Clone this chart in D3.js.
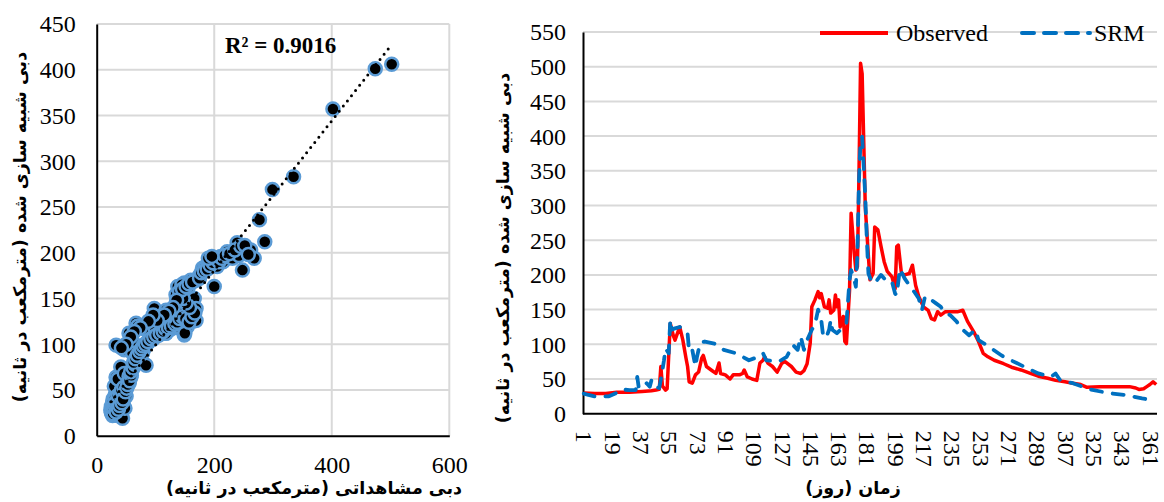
<!DOCTYPE html>
<html>
<head>
<meta charset="utf-8">
<script src="https://cdn.jsdelivr.net/npm/d3@7"></script>
<style>
  html, body { margin: 0; padding: 0; background: #fff; }
  svg { display: block; }
  .num { font-family: "Liberation Serif", "Times New Roman", serif; fill: #000; }
  .fa { font-family: "DejaVu Sans", sans-serif; font-weight: bold; fill: #000; }
</style>
</head>
<body>
<svg id="chart" width="1164" height="502"></svg>
<script>
// ---- Scatter: observed vs simulated discharge (m3/s) ----
const scatterObs = [
  24,25,26,27,27,28,28,29,30,30,30,31,32,32,33,33,34,35,35,35,36,38,38,38,38,40,40,41,42,44,44,44,45,46,47,48,48,50,50,52,33,30,33,36,41,47,55,58,55,
  25,26,27,28,29,30,31,32,33,34,36,37,39,40,42,43,45,46,49,51,53,56,59,60,
  58,62,65,68,70,70,72,75,78,80,82,84,84,85,88,90,95,100,105,106,110,115,118,120,125,130,132,33,47,61,61,55,67,70,78,81,95,98,106,109,118,118,129,135,138,143,143,143,149,149,149,154,155,160,163,166,169,169,169,174,145,150,140,125,112,100,
  63,66,69,73,76,79,83,87,92,97,102,108,113,117,122,127,133,137,141,146,151,157,162,167,158,152,147,141,146,152,157,163,136,130,123,115,103,96,88,74,64,58,50,42,
  175,180,185,190,195,200,203,200,205,211,215,222,231,239,242,248,262,268,277,286,299,335,402,474,502,
  178,183,188,193,198,208,213,218,226,235,245,252,258,190,196];
const scatterSim = [
  28,25,30,33,22,28,40,35,31,26,38,29,27,45,30,23,33,28,50,22,32,35,24,42,48,38,30,57,40,19,52,57,35,47,43,30,55,43,58,62,54,54,64,62,75,68,57,64,65,
  32,27,36,24,30,34,41,36,26,38,44,29,33,46,50,36,40,53,48,52,56,60,66,72,
  70,74,78,82,81,85,88,90,92,95,97,77,101,100,102,104,105,108,110,110,112,113,112,115,116,118,119,99,94,103,90,112,123,120,90,117,122,139,130,130,137,112,134,154,163,150,145,117,110,135,167,119,160,170,125,150,126,139,170,174,165,112,125,130,120,115,
  80,84,88,92,95,98,100,103,106,108,110,112,114,117,118,120,122,124,128,130,128,124,130,134,140,145,150,158,160,163,166,168,148,140,136,132,126,132,125,118,114,108,100,96,
  172,183,185,187,190,192,192,163,185,196,190,201,194,211,197,181,203,194,236,212,269,283,357,401,406,
  178,180,182,186,189,190,194,197,199,203,207,208,198,194,196];
const trendSlope = 0.817;
const trendIntercept = 17.4;
const rSquaredLabel = "R² = 0.9016";
const scatterXTicks = [0, 200, 400, 600];
const scatterYTicks = [0, 50, 100, 150, 200, 250, 300, 350, 400, 450];

// ---- Daily hydrograph (day of year, m3/s) ----
const observedDays = [1,8,15,22,30,38,44,47,49,50,51,53,54,56,58,59,62,64,66,67,68,70,72,74,76,77,79,82,85,87,88,91,94,96,100,102,103,105,108,111,113,115,116,118,121,124,127,129,133,136,139,141,143,145,146,148,150,151,152,154,156,157,158,160,161,162,163,164,166,167,168,170,171,173,174,175,176,177,178,179,180,182,183,185,186,188,190,192,194,197,199,200,201,203,205,208,210,212,214,217,220,222,224,226,228,231,235,239,242,245,249,252,255,258,262,268,273,279,285,290,296,301,307,312,317,321,329,335,340,348,352,354,357,359,361,363,365];
const observedFlow = [30,29,29,31,31,32,33,34,35,68,40,34,36,130,112,106,125,106,80,68,46,44,56,60,80,84,68,63,58,73,58,56,50,56,56,58,63,53,50,48,73,77,82,73,68,60,73,75,68,60,58,62,72,102,154,164,176,167,173,154,152,164,145,149,171,154,164,125,140,104,101,178,289,231,207,212,346,505,490,394,298,226,193,202,269,265,241,219,205,197,180,241,243,202,200,202,214,185,169,154,149,137,135,147,142,147,147,147,149,133,118,104,87,82,77,72,67,63,58,54,51,48,46,44,42,38,39,39,39,39,37,35,36,39,42,46,42];
const srmDays = [1,4,8,12,17,21,25,30,34,35,36,39,41,43,44,46,49,51,52,53,55,56,57,59,62,64,66,67,68,70,72,73,75,78,84,90,98,106,112,115,117,125,130,134,137,139,141,143,146,148,150,152,153,155,157,158,159,162,166,168,170,171,173,174,175,176,177,178,179,180,181,182,184,186,190,194,197,199,200,202,205,208,211,214,216,218,222,225,228,230,234,238,241,246,250,252,257,266,268,279,290,298,301,304,312,323,334,345,356,361];
const srmFlow = [29,27,25,25,25,29,35,34,34,53,37,39,44,39,48,39,37,63,77,94,87,135,121,123,125,122,118,116,89,92,68,82,102,104,101,92,87,77,82,87,77,75,82,99,92,111,92,106,121,128,150,135,116,109,121,135,121,116,125,130,193,207,193,183,231,337,394,399,356,313,250,202,190,188,200,190,190,173,171,209,195,185,176,166,149,169,164,159,154,147,142,133,123,113,121,106,99,85,82,70,58,53,58,48,44,35,30,27,22,20];
const dayTickLabels = [1,19,37,55,73,91,109,127,145,163,181,199,217,235,253,271,289,307,325,343,361];
const flowTicks = [0,50,100,150,200,250,300,350,400,450,500,550];
const seriesNames = ["Observed", "SRM"];

const yTitle = "دبی شبیه سازی شده (مترمکعب در ثانیه)";
const xTitleLeft = "دبی مشاهداتی (مترمکعب در ثانیه)";
const xTitleRight = "زمان (روز)";

const svg = d3.select("#chart");
const GRID = "#d9d9d9";

// ================= Left panel: scatter =================
const xS = d3.scaleLinear().domain([0, 600]).range([96.7, 449.3]);
const yS = d3.scaleLinear().domain([0, 450]).range([435.7, 24]);
const left = svg.append("g");

left.append("g").selectAll("line").data(scatterYTicks.filter(v => v > 0)).join("line")
  .attr("x1", xS(0)).attr("x2", xS(600))
  .attr("y1", d => yS(d)).attr("y2", d => yS(d))
  .attr("stroke", GRID).attr("stroke-width", 2);
left.append("g").selectAll("line").data(scatterXTicks.filter(v => v > 0)).join("line")
  .attr("x1", d => xS(d)).attr("x2", d => xS(d))
  .attr("y1", yS(0)).attr("y2", yS(450))
  .attr("stroke", GRID).attr("stroke-width", 2);

// axes (labels only, no tick marks)
const lxAxis = left.append("g").attr("transform", `translate(0,${yS(0)})`)
  .call(d3.axisBottom(xS).tickValues(scatterXTicks).tickSize(0).tickPadding(0));
lxAxis.select(".domain").attr("stroke", "#000").attr("stroke-width", 2);
lxAxis.selectAll("text").attr("class", "num").attr("font-size", 24).attr("y", 37).attr("dy", 0);

const lyAxis = left.append("g").attr("transform", `translate(${xS(0)},0)`)
  .call(d3.axisLeft(yS).tickValues(scatterYTicks).tickSize(0).tickPadding(0));
lyAxis.select(".domain").attr("stroke", "#000").attr("stroke-width", 2);
lyAxis.selectAll("text").attr("class", "num").attr("font-size", 24).attr("x", -21).attr("dy", "0.33em");
[lxAxis, lyAxis].forEach(a => a.attr("font-family", null).attr("font-size", null));

// points
const pts = scatterObs.map((o, i) => [o, scatterSim[i]]);
left.append("g").selectAll("circle").data(pts).join("circle")
  .attr("cx", d => xS(d[0])).attr("cy", d => yS(d[1])).attr("r", 6.5)
  .attr("fill", "#000").attr("stroke", "#5b9bd5").attr("stroke-width", 2.5);

// linear trend line across observed range
const xExt = d3.extent(scatterObs);
left.append("line")
  .attr("x1", xS(xExt[0])).attr("y1", yS(trendIntercept + trendSlope * xExt[0]))
  .attr("x2", xS(xExt[1])).attr("y2", yS(trendIntercept + trendSlope * xExt[1]))
  .attr("stroke", "#000").attr("stroke-width", 3).attr("stroke-linecap", "round")
  .attr("stroke-dasharray", "0,6.6");

left.append("text").attr("class", "num").attr("x", 225).attr("y", 53)
  .attr("font-size", 23).attr("font-weight", "bold").text(rSquaredLabel);

left.append("text").attr("class", "fa").attr("font-size", 17.5)
  .attr("text-anchor", "middle").attr("direction", "rtl")
  .attr("transform", "translate(26,227) rotate(-90)").text(yTitle);
left.append("text").attr("class", "fa").attr("font-size", 17.5)
  .attr("text-anchor", "middle").attr("direction", "rtl")
  .attr("x", 314).attr("y", 494).text(xTitleLeft);

// ================= Right panel: hydrograph =================
const xR = d3.scalePoint().domain(d3.range(1, 366)).range([583, 1157]).padding(0.5);
const yR = d3.scaleLinear().domain([0, 550]).range([413.7, 32]);
const right = svg.append("g");

right.append("g").selectAll("line").data(flowTicks.filter(v => v > 0)).join("line")
  .attr("x1", 583).attr("x2", 1157)
  .attr("y1", d => yR(d)).attr("y2", d => yR(d))
  .attr("stroke", GRID).attr("stroke-width", 2);

const ryAxis = right.append("g").attr("transform", "translate(583,0)")
  .call(d3.axisLeft(yR).tickValues(flowTicks).tickSize(0).tickPadding(0));
ryAxis.select(".domain").attr("stroke", "#000").attr("stroke-width", 2);
ryAxis.selectAll("text").attr("class", "num").attr("font-size", 24).attr("x", -17).attr("dy", "0.33em");

const rxAxis = right.append("g").attr("transform", `translate(0,${yR(0)})`)
  .call(d3.axisBottom(xR).tickValues(dayTickLabels).tickSize(0).tickPadding(0));
rxAxis.select(".domain").attr("stroke", "#000").attr("stroke-width", 2)
  .attr("d", "M583,0H1157");
rxAxis.selectAll("text").attr("class", "num").attr("font-size", 24)
  .attr("y", 0).attr("dy", "0.33em").attr("x", 0)
  .attr("text-anchor", "start")
  .attr("transform", "translate(0,17) rotate(90)");
[rxAxis, ryAxis].forEach(a => a.attr("font-family", null).attr("font-size", null));

const line = d3.line().x(d => xR(d[0])).y(d => yR(d[1]));
const srmPts = srmDays.map((d, i) => [d, srmFlow[i]]);
const obsPts = observedDays.map((d, i) => [d, observedFlow[i]]);

right.append("path").datum(obsPts).attr("d", line)
  .attr("fill", "none").attr("stroke", "#ff0000").attr("stroke-width", 3.5)
  .attr("stroke-linejoin", "round");
right.append("path").datum(srmPts).attr("d", line)
  .attr("fill", "none").attr("stroke", "#0070c0").attr("stroke-width", 3.8)
  .attr("stroke-linecap", "round").attr("stroke-linejoin", "round")
  .attr("stroke-dasharray", "11,11");

// legend
const lg = right.append("g");
lg.append("line").attr("x1", 820).attr("x2", 888).attr("y1", 33).attr("y2", 33)
  .attr("stroke", "#ff0000").attr("stroke-width", 4);
lg.append("text").attr("class", "num").attr("x", 896).attr("y", 41).attr("font-size", 24).text(seriesNames[0]);
lg.append("line").attr("x1", 1022).attr("x2", 1090).attr("y1", 33).attr("y2", 33)
  .attr("stroke", "#0070c0").attr("stroke-width", 4)
  .attr("stroke-linecap", "round").attr("stroke-dasharray", "12,10");
lg.append("text").attr("class", "num").attr("x", 1094).attr("y", 41).attr("font-size", 24).text(seriesNames[1]);

right.append("text").attr("class", "fa").attr("font-size", 17.5)
  .attr("text-anchor", "middle").attr("direction", "rtl")
  .attr("transform", "translate(509,248) rotate(-90)").text(yTitle);
right.append("text").attr("class", "fa").attr("font-size", 17.5)
  .attr("text-anchor", "middle").attr("direction", "rtl")
  .attr("x", 853).attr("y", 494).text(xTitleRight);
</script>
</body>
</html>
